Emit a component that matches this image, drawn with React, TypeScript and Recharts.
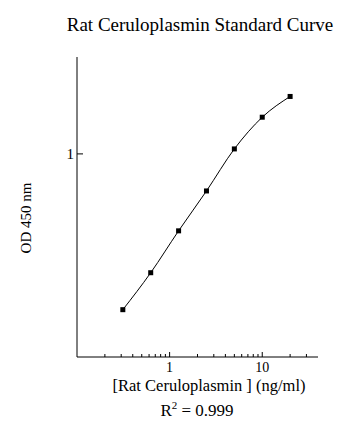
import React from 'react';
import { LineChart, Line, XAxis, YAxis } from 'recharts';

const concentrations = [0.3125, 0.625, 1.25, 2.5, 5, 10, 20];
const odValues = [0.171, 0.26, 0.418, 0.657, 1.058, 1.516, 1.918];
const xTicks = [0.2, 0.3, 0.4, 0.5, 0.6, 0.7, 0.8, 0.9, 1, 2, 3, 4, 5, 6, 7, 8, 9, 10, 20, 30];
const xLabels = [1, 10];
const yTicks = [1];

const FONT = '"Times New Roman", "Liberation Serif", serif';

const data = concentrations.map((c, i) => ({ x: c, y: odValues[i] }));

function XTick(props: any) {
  const { x, y, payload } = props;
  const major = xLabels.includes(payload.value);
  return (
    <g>
      <line x1={x} x2={x} y1={y} y2={y - (major ? 5 : 3)} stroke="#000" />
      {major && (
        <text x={x} y={y + 15} textAnchor="middle" fontSize={14} fontFamily={FONT} fill="#000">
          {payload.value}
        </text>
      )}
    </g>
  );
}

function YTick(props: any) {
  const { x, y, payload } = props;
  return (
    <g>
      <line x1={x} x2={x + 6} y1={y} y2={y} stroke="#000" />
      <text x={x - 3} y={y + 5} textAnchor="end" fontSize={15} fontFamily={FONT} fill="#000">
        {payload.value}
      </text>
    </g>
  );
}

function SquareDot(props: any) {
  const { cx, cy } = props;
  if (cx == null || cy == null) return null;
  return <rect x={cx - 2.5} y={cy - 2.5} width={5} height={5} fill="#000" />;
}

export default function App() {
  return (
    <div style={{ position: 'absolute', left: 0, top: 0, width: 360, height: 439, background: '#fff', fontFamily: FONT, color: '#000' }}>
      <LineChart width={360} height={439} data={data} margin={{ top: 57, right: 42, bottom: 52, left: 57 }}>
        <XAxis
          dataKey="x"
          type="number"
          scale="log"
          domain={[0.1, 40]}
          ticks={xTicks}
          interval={0}
          tick={<XTick />}
          tickLine={false}
          tickSize={0}
          tickMargin={0}
          height={30}
          allowDataOverflow
          axisLine={{ stroke: '#000' }}
        />
        <YAxis
          type="number"
          scale="log"
          domain={[0.1, 3]}
          ticks={yTicks}
          interval={0}
          tick={<YTick />}
          tickLine={false}
          tickSize={0}
          tickMargin={0}
          width={20}
          allowDataOverflow
          axisLine={{ stroke: '#000' }}
        />
        <Line
          dataKey="y"
          type="monotone"
          stroke="#000"
          strokeWidth={1}
          dot={<SquareDot />}
          activeDot={false}
          isAnimationActive={false}
        />
      </LineChart>
      <div style={{ position: 'absolute', left: 0, width: 400, top: 14, lineHeight: '22px', textAlign: 'center', fontSize: 19, whiteSpace: 'nowrap' }}>
        Rat Ceruloplasmin Standard Curve
      </div>
      <div style={{ position: 'absolute', left: 9, width: 400, top: 376, lineHeight: '20px', textAlign: 'center', fontSize: 16.5, whiteSpace: 'nowrap' }}>
        [Rat Ceruloplasmin ] (ng/ml)
      </div>
      <div style={{ position: 'absolute', left: -3, width: 400, top: 401, lineHeight: '20px', textAlign: 'center', fontSize: 17, whiteSpace: 'nowrap' }}>
        R<span style={{ fontSize: 11, position: 'relative', top: -7 }}>2</span> = 0.999
      </div>
      <div style={{ position: 'absolute', left: 26, top: 218, lineHeight: '18px', transform: 'translate(-50%, -50%) rotate(-90deg)', fontSize: 15, whiteSpace: 'nowrap' }}>
        OD 450 nm
      </div>
    </div>
  );
}
